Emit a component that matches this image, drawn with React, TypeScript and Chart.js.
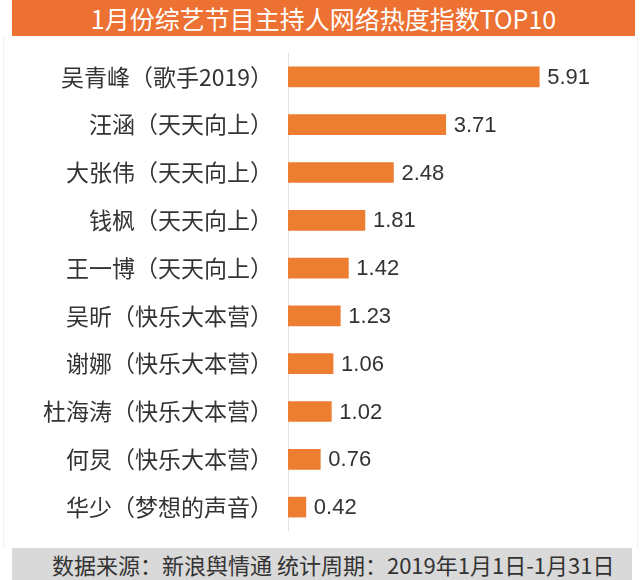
import React, { useEffect, useRef } from "react";
import { Chart, registerables } from "chart.js";

Chart.register(...registerables);

const chartTitle = "1月份综艺节目主持人网络热度指数TOP10";
const hosts = [
  "吴青峰（歌手2019）",
  "汪涵（天天向上）",
  "大张伟（天天向上）",
  "钱枫（天天向上）",
  "王一博（天天向上）",
  "吴昕（快乐大本营）",
  "谢娜（快乐大本营）",
  "杜海涛（快乐大本营）",
  "何炅（快乐大本营）",
  "华少（梦想的声音）",
];
const heatIndex = [5.91, 3.71, 2.48, 1.81, 1.42, 1.23, 1.06, 1.02, 0.76, 0.42];
const sourceNote = "数据来源：新浪舆情通  统计周期：2019年1月1日-1月31日";

const FONT = '"Noto Sans CJK SC", "Liberation Sans", sans-serif';
const NUM_FONT = '"Liberation Sans", "Noto Sans CJK SC", sans-serif';

export default function App() {
  const ref = useRef<HTMLCanvasElement>(null);

  useEffect(() => {
    document.body.style.margin = "0";
    const valueLabels = {
      id: "valueLabels",
      afterDatasetsDraw(chart: any) {
        const ctx = chart.ctx;
        const meta = chart.getDatasetMeta(0);
        ctx.save();
        ctx.font = `22px ${NUM_FONT}`;
        ctx.fillStyle = "#333333";
        ctx.textAlign = "left";
        ctx.textBaseline = "middle";
        meta.data.forEach((bar: any, i: number) => {
          ctx.fillText(heatIndex[i].toFixed(2), bar.x + 8, bar.y + 1);
        });
        ctx.restore();
      },
    };

    const chart = new Chart(ref.current as HTMLCanvasElement, {
      type: "bar",
      data: {
        labels: hosts,
        datasets: [
          {
            data: heatIndex,
            backgroundColor: "#ED7D31",
            barThickness: 20,
          },
        ],
      },
      options: {
        indexAxis: "y",
        animation: false,
        responsive: false,
        maintainAspectRatio: false,
        layout: { padding: 0 },
        plugins: {
          legend: { display: false },
          tooltip: { enabled: false },
          title: { display: false },
        },
        scales: {
          x: { display: false, min: 0, max: 8.28 },
          y: {
            grid: { display: false, drawTicks: false },
            border: { display: true, color: "#e2e2e2", width: 1 },
            ticks: {
              color: "#333333",
              font: { size: 23, family: FONT },
              padding: 15,
            },
            afterFit: (scale: any) => {
              scale.width = 288;
              scale.paddingTop = 0;
              scale.paddingBottom = 0;
            },
          },
        },
      },
      plugins: [valueLabels],
    });
    return () => chart.destroy();
  }, []);

  return (
    <div
      style={{
        position: "relative",
        width: 640,
        height: 580,
        background: "#ffffff",
        overflow: "hidden",
        fontFamily: FONT,
      }}
    >
      <div style={{ position: "absolute", left: 3, top: 36, width: 1, height: 512, background: "#f0f0f0" }} />
      <div style={{ position: "absolute", left: 637, top: 36, width: 1, height: 512, background: "#f0f0f0" }} />
      <div
        style={{
          position: "absolute",
          left: 12,
          top: 0,
          width: 623,
          height: 36,
          background: "#EC7133",
          color: "#ffffff",
          fontSize: 25,
          lineHeight: "36px",
          textAlign: "center",
        }}
      >
        {chartTitle}
      </div>
      <canvas
        ref={ref}
        width={640}
        height={478}
        style={{ position: "absolute", left: 0, top: 53, width: 640, height: 478 }}
      />
      <div
        style={{
          position: "absolute",
          left: 12,
          top: 548,
          width: 620,
          height: 32,
          background: "#d9d9d9",
          color: "#333333",
          fontSize: 22,
          lineHeight: "32px",
          paddingLeft: 40,
          boxSizing: "border-box",
          whiteSpace: "nowrap",
        }}
      >
        {sourceNote}
      </div>
    </div>
  );
}
